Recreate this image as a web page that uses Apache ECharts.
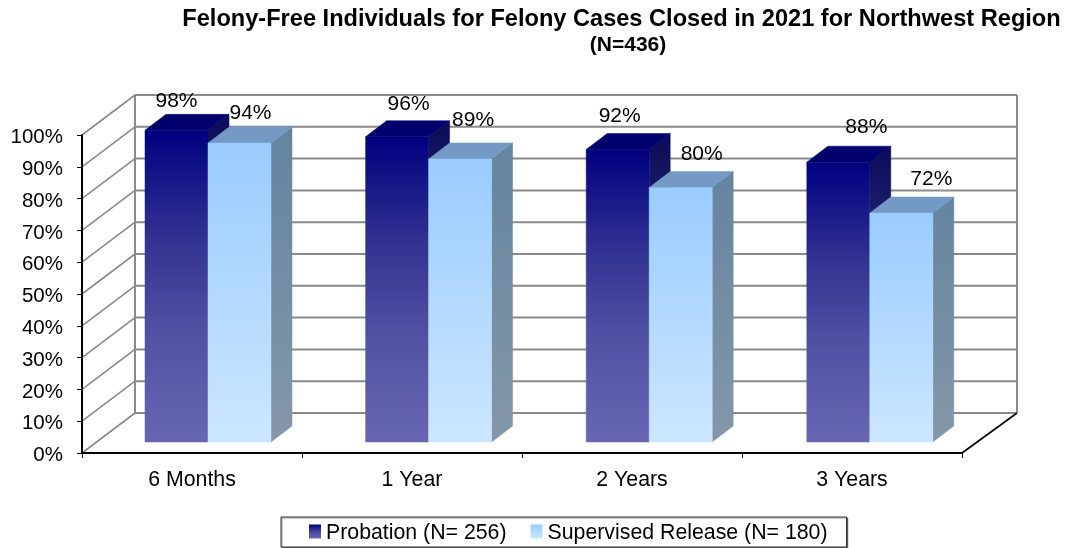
<!DOCTYPE html>
<html><head><meta charset="utf-8">
<style>html,body{margin:0;padding:0;background:#fff}#c{width:1083px;height:548px}</style>
<script src="https://cdn.jsdelivr.net/npm/echarts@6/dist/echarts.min.js"></script>
</head><body><div id="c"></div>
<script>
const categories = ['6 Months', '1 Year', '2 Years', '3 Years'];
const probation = [98, 96, 92, 88];
const supervised = [94, 89, 80, 72];
const yTicks = [0, 10, 20, 30, 40, 50, 60, 70, 80, 90, 100];
const titleText = 'Felony-Free Individuals for Felony Cases Closed in 2021 for Northwest Region';
const subtitleText = '(N=436)';
const seriesNames = ['Probation (N= 256)', 'Supervised Release (N= 180)'];

const FONT = '"Liberation Sans", Arial, sans-serif';
const WALL = { dx: 54, dy: -40 };
const BAR = { w: 63, baseDy: -11, dx: 21, dy: -16, step: 0.6 };
const labelShift = [
  [[0, -29], [11, -30]], [[11.5, -33], [13, -39]],
  [[2, -33], [21, -33]], [[28, -35], [30, -34]]
];
const grad = (...c) => ({ type: 'linear', x: 0, y: 0, x2: 0, y2: 1, colorStops: c.map(([offset, color]) => ({ offset, color })) });

function palette(i) {
  return i === 0
    ? { front: grad([0, '#000080'], [0.35, '#323291'], [0.67, '#5353a5'], [1, '#6666b3']), top: '#00006c', side: grad([0, '#0a0a58'], [1, '#5a5f9c']) }
    : { front: grad([0, '#99ccff'], [1, '#cce6ff']), top: '#7399c4', side: grad([0, '#64849f'], [1, '#8497a8']) };
}

function barSeries(name, idx, values) {
  const pal = palette(idx);
  return {
    type: 'custom', name, z: 3 + idx, silent: true,
    encode: { x: 0, y: 1 },
    itemStyle: { color: pal.front },
    data: values.map((v, i) => [i, v]),
    renderItem(params, api) {
      const cat = api.value(0), v = api.value(1);
      const p = api.coord([cat, v]), p0 = api.coord([cat, 0]);
      const x0 = p[0] - 47 + cat * BAR.step + idx * BAR.w, x1 = x0 + BAR.w;
      const yT = p[1] + BAR.baseDy, yB = p0[1] + BAR.baseDy;
      const d = [BAR.dx, BAR.dy];
      const shift = labelShift[cat][idx];
      const poly = (points, fill) => ({
        type: 'polygon', shape: { points },
        style: { fill, stroke: fill, lineWidth: 0.5 }
      });
      return {
        type: 'group',
        children: [
          poly([[x1, yT], [x1 + d[0], yT + d[1]], [x1 + d[0], yB + d[1]], [x1, yB]], pal.side),
          poly([[x0, yT], [x0 + d[0], yT + d[1]], [x1 + d[0], yT + d[1]], [x1, yT]], pal.top),
          poly([[x0, yT], [x1, yT], [x1, yB], [x0, yB]], pal.front),
          {
            type: 'text', z2: 50,
            style: {
              text: v + '%', x: (x0 + x1) / 2 + shift[0], y: yT + shift[1],
              align: 'center', verticalAlign: 'middle',
              font: '21px ' + FONT, fill: '#000'
            }
          }
        ]
      };
    }
  };
}

const wallSeries = {
  type: 'custom', z: 1, silent: true,
  encode: { x: 0, y: 1 },
  data: yTicks.map(t => [0, t]),
  renderItem(params, api) {
    const t = api.value(1);
    const cs = params.coordSys;
    const y = api.coord([0, t])[1];
    const L = cs.x, R = cs.x + cs.width;
    const by = y + WALL.dy, bl = L + 53, br = R + WALL.dx + 1;
    const gray = { stroke: '#8a8a8a', lineWidth: 2 };
    const kids = [
      { type: 'line', shape: { x1: L, y1: y, x2: bl, y2: by }, style: { stroke: '#8a8a8a', lineWidth: 1.6 } },
      { type: 'line', shape: { x1: bl, y1: by, x2: br, y2: by }, style: gray }
    ];
    if (t === 0) {
      const topY = api.coord([0, 100])[1] + WALL.dy;
      kids.push(
        { type: 'line', shape: { x1: bl, y1: by, x2: bl, y2: topY }, style: gray },
        { type: 'line', shape: { x1: br, y1: by, x2: br, y2: topY }, style: gray },
        { type: 'line', shape: { x1: R, y1: y, x2: br, y2: by }, style: { stroke: '#000', lineWidth: 1.6 } }
      );
    }
    return { type: 'group', children: kids };
  }
};

const chart = echarts.init(document.getElementById('c'), null, { renderer: 'canvas' });
chart.setOption({
  animation: false,
  backgroundColor: '#fff',
  title: [
    { text: titleText, left: 616.5, top: 2, textAlign: 'center', textStyle: { fontFamily: FONT, fontSize: 23.6, fontWeight: 'bold', color: '#000' } },
    { text: subtitleText, left: 623, top: 30, textAlign: 'center', textStyle: { fontFamily: FONT, fontSize: 21, fontWeight: 'bold', color: '#000' } }
  ],
  legend: {
    data: seriesNames, left: 281, top: 517, orient: 'horizontal',
    icon: 'rect', itemWidth: 12, itemHeight: 14, itemGap: 24, padding: [6, 19, 3, 28],
    borderColor: '#333', borderWidth: 1, backgroundColor: '#fff',
    shadowColor: 'rgba(0,0,0,0.45)', shadowOffsetX: 1, shadowOffsetY: 1, shadowBlur: 1,
    selectedMode: false,
    formatter: name => '{a|' + name + '}',
    textStyle: { fontFamily: FONT, fontSize: 21.3, color: '#000',
      rich: { a: { fontFamily: FONT, fontSize: 21.3, color: '#000', padding: [4, 0, 0, 0] } } }
  },
  grid: { left: 82, right: 121, top: 135, bottom: 95 },
  xAxis: {
    type: 'category', data: categories, z: 6,
    axisLine: { lineStyle: { color: '#000', width: 2 } },
    axisTick: { show: true, length: 5, alignWithLabel: false, lineStyle: { color: '#000', width: 1 } },
    axisLabel: { margin: 17, fontFamily: FONT, fontSize: 21.3, color: '#000', interval: 0 },
    splitLine: { show: false }
  },
  yAxis: {
    type: 'value', min: 0, max: 100, interval: 10, z: 6,
    axisLine: { show: true, lineStyle: { color: '#000', width: 2 } },
    axisTick: { show: true, length: 5, lineStyle: { color: '#000', width: 1 } },
    axisLabel: { margin: 19, verticalAlign: 'top', lineHeight: 5, fontFamily: FONT, fontSize: 20.5, color: '#000', formatter: '{value}%' },
    splitLine: { show: false }
  },
  series: [wallSeries, barSeries(seriesNames[0], 0, probation), barSeries(seriesNames[1], 1, supervised)]
});
</script></body></html>
